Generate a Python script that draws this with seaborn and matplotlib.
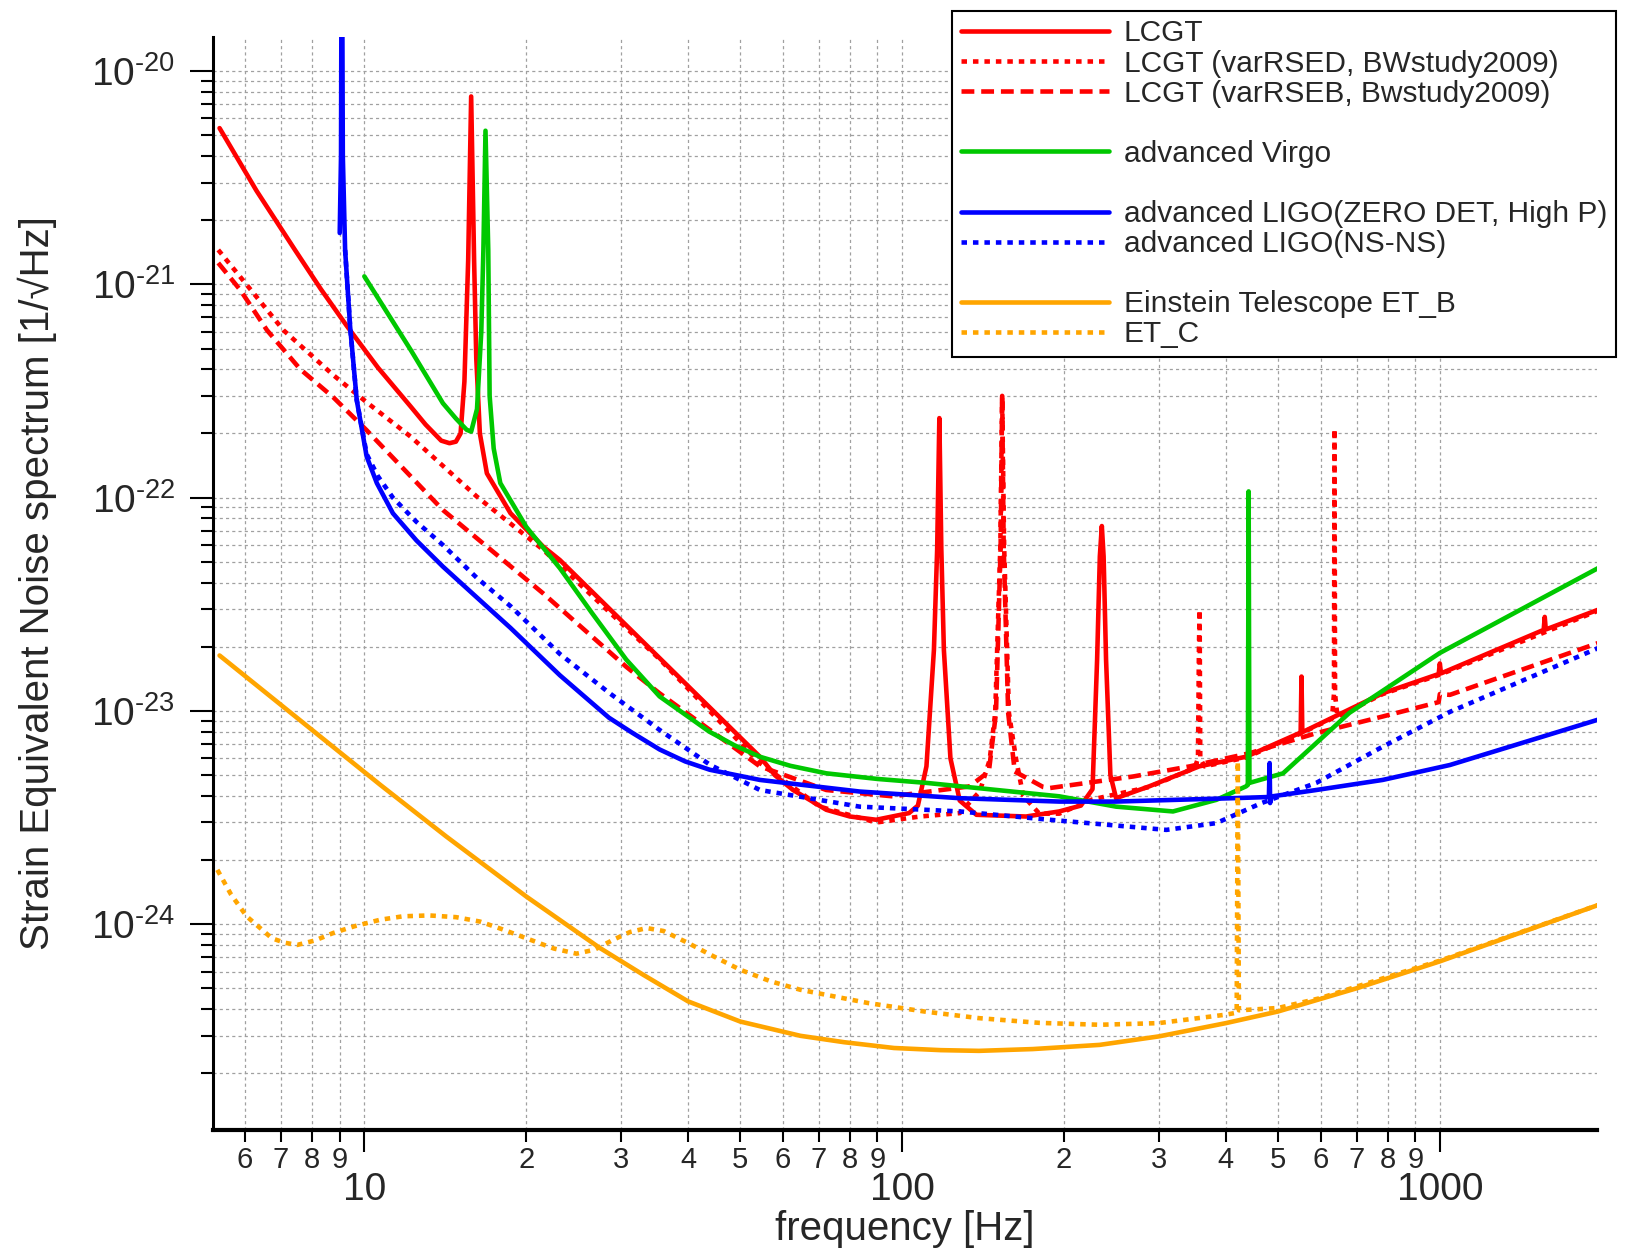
import numpy as np
import pandas as pd
import seaborn as sns
import matplotlib.pyplot as plt
from matplotlib import ticker
from matplotlib.lines import Line2D

# ---- data (frequency [Hz], strain [1/rtHz]) ----
lcgt_f = [5.38, 6.3, 7.43, 8.3, 9.27, 10.6, 12.2, 13.0, 13.9, 14.4, 14.8, 15.1, 15.35, 15.6,
          15.8, 16.0, 16.15, 16.4, 16.9, 18.7, 21.5, 23.1, 54.4, 58, 62.7, 72.3, 80, 89.5, 103,
          107, 111, 114.6, 116.2, 117.3, 118.3, 119.6, 123, 128, 137.5, 170, 196, 215, 226,
          230.5, 233.2, 235.2, 237, 239.5, 244, 250, 288, 357, 436, 548, 551, 553, 555, 783, 995,
          1000, 1005, 1560, 1567, 1574, 1968]
lcgt_h = [5.4e-21, 2.75e-21, 1.45e-21, 9.5e-22, 6.4e-22, 4.07e-22, 2.67e-22, 2.2e-22, 1.85e-22,
          1.8e-22, 1.83e-22, 2.0e-22, 3.5e-22, 1.3e-21, 7.6e-21, 1.3e-21, 4.5e-22, 2.0e-22,
          1.3e-22, 8.45e-23, 5.9e-23, 5.1e-23, 6.1e-24, 5.0e-24, 4.26e-24, 3.44e-24, 3.2e-24,
          3.09e-24, 3.32e-24, 3.6e-24, 5.5e-24, 1.93e-23, 5.7e-23, 2.36e-22, 5.7e-23, 1.93e-23,
          6.0e-24, 3.8e-24, 3.26e-24, 3.2e-24, 3.38e-24, 3.6e-24, 4.3e-24, 1.74e-23, 5.3e-23,
          7.36e-23, 5.3e-23, 1.74e-23, 5.0e-24, 3.9e-24, 4.43e-24, 5.5e-24, 6.1e-24, 7.87e-24,
          7.9e-24, 1.45e-23, 7.95e-24, 1.21e-23, 1.49e-23, 1.67e-23, 1.5e-23, 2.4e-23, 2.76e-23,
          2.41e-23, 2.98e-23]

rsed_f = [5.35, 6.22, 7.07, 8.76, 10.1, 12.2, 16.2, 21.5, 30.7, 35.4, 54.4, 70.3, 89.5, 108,
          128, 139.5, 145.5, 149, 152.3, 153.5, 154.8, 158, 163, 168, 180, 196, 226, 288, 350,
          355, 356.5, 357.5, 358.5, 365, 436, 548, 630, 635.5, 637, 638.5, 645, 783, 1000, 1968]
rsed_h = [1.45e-21, 9.1e-22, 6.1e-22, 3.75e-22, 2.8e-22, 1.93e-22, 1.01e-22, 5.7e-23, 2.45e-23,
          1.75e-23, 5.7e-24, 3.56e-24, 3.0e-24, 3.2e-24, 3.32e-24, 4.2e-24, 5.9e-24, 9.8e-24,
          5.9e-23, 3.0e-22, 5.9e-23, 9.8e-24, 5.9e-24, 4.0e-24, 3.3e-24, 3.3e-24, 3.85e-24,
          4.4e-24, 5.4e-24, 6.0e-24, 2.0e-23, 2.98e-23, 6.0e-24, 5.5e-24, 6.05e-24, 7.8e-24,
          9.2e-24, 1.2e-23, 2.1e-22, 1.2e-23, 9.4e-24, 1.2e-23, 1.48e-23, 2.95e-23]

rseb_f = [5.35, 5.88, 6.59, 7.6, 8.76, 10.1, 14.0, 21.5, 30.7, 35.4, 54.4, 72.3, 96, 133.5,
          145, 149.5, 152.5, 153.5, 154.5, 157.5, 162, 183, 188, 269, 343, 443, 589, 783, 995,
          1000, 1044, 1968]
rseb_h = [1.26e-21, 9.4e-22, 6.1e-22, 4.0e-22, 2.95e-22, 2.07e-22, 8.75e-23, 3.56e-23, 1.61e-23,
          1.21e-23, 5.5e-24, 4.26e-24, 3.98e-24, 4.43e-24, 5.2e-24, 9.8e-24, 5.9e-23, 3.0e-22,
          5.9e-23, 9.8e-24, 5.2e-24, 4.4e-24, 4.35e-24, 4.93e-24, 5.5e-24, 6.34e-24, 7.87e-24,
          9.42e-24, 1.1e-23, 1.2e-23, 1.19e-23, 2.08e-23]

virgo_f = [10, 12.2, 14.0, 14.8, 15.5, 15.8, 16.2, 16.5, 16.65, 16.8, 17.0, 17.1, 17.4, 17.9,
           20.0, 23.1, 26.5, 30.7, 35.4, 43.8, 48.8, 54.4, 62, 72.3, 90, 111, 196, 250, 319,
           384, 436, 439.5, 441, 442.5, 511, 679, 1000, 1968]
virgo_h = [1.09e-21, 4.92e-22, 2.77e-22, 2.35e-22, 2.08e-22, 2.04e-22, 2.6e-22, 6.0e-22,
           1.45e-21, 5.25e-21, 1.45e-21, 3.0e-22, 1.7e-22, 1.17e-22, 7.3e-23, 4.67e-23, 2.88e-23,
           1.74e-23, 1.17e-23, 8.0e-24, 6.9e-24, 6.1e-24, 5.53e-24, 5.1e-24, 4.8e-24, 4.6e-24,
           3.98e-24, 3.56e-24, 3.38e-24, 3.83e-24, 4.43e-24, 4.5e-24, 1.07e-22, 4.6e-24, 5.1e-24,
           9.8e-24, 1.87e-23, 4.67e-23]

aligo_f = [9.0, 9.05, 9.08, 9.12, 9.21, 9.41, 9.68, 10.1, 10.55, 11.3, 12.5, 14.0, 16.2, 18.7,
           23.1, 28.5, 31.5, 35.4, 39.5, 43.9, 54.4, 83.4, 128, 196, 250, 412, 481, 482.5, 483.5,
           485, 589, 783, 1044, 1968]
aligo_h = [1.74e-21, 4.0e-21, 1.0e-19, 4.0e-21, 1.45e-21, 6.33e-22, 2.87e-22, 1.56e-22,
           1.17e-22, 8.45e-23, 6.3e-23, 4.75e-23, 3.4e-23, 2.45e-23, 1.47e-23, 9.3e-24, 7.9e-24,
           6.6e-24, 5.8e-24, 5.3e-24, 4.75e-24, 4.19e-24, 3.9e-24, 3.76e-24, 3.76e-24, 3.9e-24,
           3.95e-24, 5.7e-24, 3.7e-24, 3.97e-24, 4.26e-24, 4.75e-24, 5.58e-24, 9.1e-24]

nsns_f = [9.21, 9.41, 9.68, 10.1, 10.6, 11.3, 12.5, 14.0, 16.2, 18.7, 23.1, 28.6, 35.4, 43.9,
          54.4, 83.4, 128, 188, 310, 384, 466, 589, 783, 1044, 1968]
nsns_h = [1.45e-21, 6.33e-22, 2.87e-22, 1.6e-22, 1.26e-22, 1.0e-22, 7.7e-23, 6.0e-23, 4.2e-23,
          3.1e-23, 1.85e-23, 1.21e-23, 8.15e-24, 5.6e-24, 4.26e-24, 3.56e-24, 3.38e-24,
          3.09e-24, 2.77e-24, 2.98e-24, 3.7e-24, 4.6e-24, 6.8e-24, 9.9e-24, 1.97e-23]

etb_f = [5.38, 10.7, 14.2, 20, 27.4, 33, 40, 50, 64.7, 78, 96.6, 118, 139, 175, 233, 300, 400,
         500, 702, 1000, 1968]
etb_h = [1.82e-23, 4.51e-24, 2.58e-24, 1.35e-24, 7.75e-25, 5.8e-25, 4.35e-25, 3.5e-25, 3.0e-25,
         2.8e-25, 2.63e-25, 2.57e-25, 2.55e-25, 2.6e-25, 2.72e-25, 2.98e-25, 3.44e-25, 3.9e-25,
         5.02e-25, 6.7e-25, 1.23e-24]

etc_f = [5.33, 5.65, 6.04, 6.73, 7.1, 7.5, 8.1, 8.75, 9.6, 10.7, 11.8, 13.2, 14.8, 16.4, 18,
         20, 22.5, 24.8, 26.8, 29.0, 31.2, 33.5, 36, 40, 44, 50, 57, 64.7, 86.6, 110, 139, 180,
         233, 300, 400, 419, 421, 423, 500, 598, 841, 1000, 1968]
etc_h = [1.8e-24, 1.38e-24, 1.09e-24, 8.6e-25, 8.2e-25, 8.0e-25, 8.4e-25, 9.1e-25, 9.8e-25,
         1.05e-24, 1.09e-24, 1.1e-24, 1.08e-24, 1.03e-24, 9.5e-25, 8.6e-25, 7.7e-25, 7.28e-25,
         7.6e-25, 8.45e-25, 9.2e-25, 9.6e-25, 9.3e-25, 8.17e-25, 7.2e-25, 6.12e-25, 5.4e-25,
         4.93e-25, 4.27e-25, 3.9e-25, 3.63e-25, 3.45e-25, 3.38e-25, 3.44e-25, 3.77e-25,
         3.85e-25, 5.8e-24, 3.95e-25, 4.05e-25, 4.5e-25, 5.9e-25, 6.75e-25, 1.23e-24]

labels = ['LCGT', 'LCGT (varRSED, BWstudy2009)', 'LCGT (varRSEB, Bwstudy2009)',
          'advanced Virgo', 'advanced LIGO(ZERO DET, High P)', 'advanced LIGO(NS-NS)',
          'Einstein Telescope ET_B', 'ET_C']

x_major = [10, 100, 1000]
x_major_labels = ['10', '100', '1000']
x_minor = [6, 7, 8, 9, 20, 30, 40, 50, 60, 70, 80, 90, 200, 300, 400, 500, 600, 700, 800, 900]
x_minor_labels = ['6', '7', '8', '9', '2', '3', '4', '5', '6', '7', '8', '9',
                  '2', '3', '4', '5', '6', '7', '8', '9']
y_major = [1e-24, 1e-23, 1e-22, 1e-21, 1e-20]
y_major_labels = [r'$10^{\text{-}24}$', r'$10^{\text{-}23}$', r'$10^{\text{-}22}$',
                  r'$10^{\text{-}21}$', r'$10^{\text{-}20}$']

# ---- style ----
sns.set_style('ticks')
plt.rcParams['font.family'] = ['Liberation Sans', 'DejaVu Sans']
plt.rcParams['mathtext.fontset'] = 'custom'
plt.rcParams['mathtext.rm'] = 'Liberation Sans'
plt.rcParams['mathtext.default'] = 'regular'

RED, GREEN, BLUE, ORANGE = '#ff0000', '#00c800', '#0000ff', '#ffa500'
DOT = (0, (1.2, 1.3))
DASH = (0, (2.8, 1.5))
LW = 3.3

series = [
    (lcgt_f, lcgt_h, RED, '-'),
    (rsed_f, rsed_h, RED, DOT),
    (rseb_f, rseb_h, RED, DASH),
    (virgo_f, virgo_h, GREEN, '-'),
    (aligo_f, aligo_h, BLUE, '-'),
    (nsns_f, nsns_h, BLUE, DOT),
    (etb_f, etb_h, ORANGE, '-'),
    (etc_f, etc_h, ORANGE, DOT),
]

fig = plt.figure(figsize=(16.4, 12.54), dpi=100)
ax = fig.add_axes([213.4 / 1640, 1 - 1129.6 / 1254, (1597 - 213.4) / 1640, (1129.6 - 36.6) / 1254])
ax.set_xscale('log')
ax.set_yscale('log')

handles = []
for (f, h, col, ls), lab in zip(series, labels):
    d = pd.DataFrame({'f': f, 'h': h})
    sns.lineplot(data=d, x='f', y='h', ax=ax, color=col, linestyle=ls, linewidth=LW,
                 estimator=None, sort=False, legend=False)
    handles.append(Line2D([], [], color=col, linestyle=ls, linewidth=LW))

ax.set_xlim(5.24, 1960)
ax.set_ylim(1.09e-25, 1.45e-20)

# ticks
ax.xaxis.set_major_locator(ticker.FixedLocator(x_major))
ax.xaxis.set_major_formatter(ticker.FixedFormatter(x_major_labels))
ax.xaxis.set_minor_locator(ticker.FixedLocator(x_minor))
ax.xaxis.set_minor_formatter(ticker.FixedFormatter(x_minor_labels))
ax.yaxis.set_major_locator(ticker.FixedLocator(y_major))
ax.yaxis.set_major_formatter(ticker.FixedFormatter(y_major_labels))
ax.yaxis.set_minor_locator(ticker.LogLocator(base=10, subs=np.arange(2, 10), numticks=20))
ax.yaxis.set_minor_formatter(ticker.NullFormatter())

ax.tick_params(axis='x', which='major', direction='out', length=16, width=1.5,
               labelsize=28, pad=14.5, color='black', bottom=True)
ax.tick_params(axis='x', which='minor', direction='out', length=8.5, width=1.5,
               labelsize=21, pad=3, color='black', bottom=True)
ax.tick_params(axis='y', which='major', direction='out', length=16.5, width=1.5,
               labelsize=28, pad=11, color='black', left=True)
ax.tick_params(axis='y', which='minor', direction='out', length=8.5, width=1.5,
               color='black', left=True)

ax.grid(True, which='both', color='#a0a0a0', linestyle=(0, (2.5, 2.5)), linewidth=0.9)
ax.set_axisbelow(True)

for s in ['top', 'right']:
    ax.spines[s].set_visible(False)
ax.spines['left'].set_linewidth(2.2)
ax.spines['bottom'].set_linewidth(3.0)
ax.spines['left'].set_color('black')
ax.spines['bottom'].set_color('black')

ax.set_xlabel('frequency [Hz]', fontsize=29)
ax.set_ylabel('Strain Equivalent Noise spectrum [1/\u221aHz]', fontsize=29)
ax.xaxis.set_label_coords(0.5, -0.074)
ax.yaxis.set_label_coords(-0.1127, 0.5)

# legend with blank spacer rows
blank = Line2D([], [], linestyle='none')
leg_handles = handles[:3] + [blank, handles[3], blank] + handles[4:6] + [blank] + handles[6:]
leg_labels = labels[:3] + [' ', labels[3], ' '] + labels[4:6] + [' '] + labels[6:]
leg = fig.legend(leg_handles, leg_labels, loc='upper right',
                 bbox_to_anchor=(1616 / 1640, 1 - 10.5 / 1254), bbox_transform=fig.transFigure,
                 fontsize=21.5, handlelength=4.95, handletextpad=0.5, labelspacing=0.07,
                 borderpad=0.3, borderaxespad=0, fancybox=False, framealpha=1,
                 edgecolor='black')
leg.get_frame().set_linewidth(1.5)

fig.savefig('out.png', dpi=100)
